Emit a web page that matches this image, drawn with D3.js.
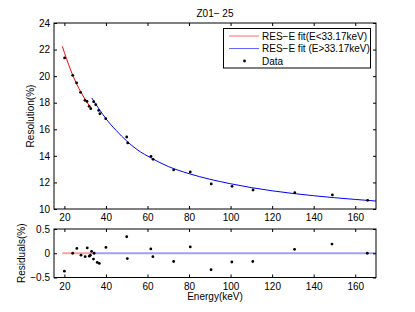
<!DOCTYPE html>
<html><head><meta charset="utf-8">
<script src="https://cdn.jsdelivr.net/npm/d3@7"></script>
<style>
body{margin:0;background:#fff;}
svg text{font-family:"Liberation Sans",Arial,sans-serif;fill:#000;}
</style></head>
<body><svg id="c" width="415" height="312"></svg>
<script>
// ---- data ----
const title = "Z01\u2212 25";
const xTicks = [20, 40, 60, 80, 100, 120, 140, 160];
const yTicksTop = [10, 12, 14, 16, 18, 20, 22, 24];
const yTicksRes = [-0.5, 0, 0.5];
const splitE = 33.17;

const dataE = [20.1, 24, 25.9, 27.8, 29.9, 30.9, 31.9, 32.7, 34.1, 35.1, 36.5, 37.1, 39.9, 50, 50.5, 61.7, 62.7, 72.6, 80.6, 90.7, 100.7, 110.8, 130.9, 149, 166];
const dataR = [21.37, 20.06, 19.49, 18.78, 18.18, 18.1, 17.73, 17.55, 18.08, 17.85, 17.42, 17.17, 16.8, 15.42, 14.97, 13.96, 13.74, 12.94, 12.79, 11.89, 11.71, 11.43, 11.23, 11.06, 10.65];

const redFitE = [19, 20, 22, 24, 26, 28, 30, 32, 33.17];
const redFitR = [22.24, 21.78, 20.88, 20.08, 19.38, 18.78, 18.25, 17.78, 17.53];
const blueFitE = [33.17, 35, 37, 40, 45, 50, 55, 62, 70, 80, 90, 100, 110, 120, 130, 140, 150, 160, 170];
const blueFitR = [18.36, 17.92, 17.46, 16.8, 15.9, 15.12, 14.47, 13.82, 13.2, 12.66, 12.24, 11.9, 11.61, 11.37, 11.17, 11.0, 10.85, 10.72, 10.6];

const resE = [20, 24, 26, 28, 30, 31, 32, 32.5, 33.1, 34, 34.3, 35.8, 36.8, 40, 50, 50.3, 61.6, 62.6, 72.6, 80.6, 90.6, 100.6, 110.7, 130.8, 148.8, 165.8];
const resV = [-0.37, 0, 0.1, -0.04, -0.07, 0.11, -0.06, -0.04, 0.04, -0.12, 0, -0.19, -0.21, 0.12, 0.34, -0.11, 0.09, -0.07, -0.17, 0.13, -0.34, -0.18, -0.17, 0.08, 0.19, 0];

const legendLabels = ["RES\u2212E fit(E<33.17keV)", "RES\u2212E fit (E>33.17keV)", "Data"];
const colors = {red: "#ff0000", blue: "#0000ff"};

// ---- drawing ----
const svg = d3.select("#c");
const L = 54, R = 376;
const x = d3.scaleLinear().domain([15, 170]).range([L, R]);
const yTop = d3.scaleLinear().domain([10, 24]).range([209, 23]);
const yRes = d3.scaleLinear().domain([-0.5, 0.5]).range([277.5, 229]);
const fmt = d => (d < 0 ? "\u2212" + Math.abs(d) : String(d));

function frame(y, yt, labelX) {
  const g = svg.append("g");
  const [y0, y1] = y.range();
  // bottom axis with labels
  const bx = g.append("g").attr("transform", `translate(0,${y0})`)
    .call(d3.axisBottom(x).tickValues(xTicks).tickSizeInner(-3).tickSizeOuter(0).tickPadding(5));
  const tx = g.append("g").attr("transform", `translate(0,${y1})`)
    .call(d3.axisTop(x).tickValues(xTicks).tickSizeInner(-3).tickSizeOuter(0).tickFormat(""));
  const ly = g.append("g").attr("transform", `translate(${L},0)`)
    .call(d3.axisLeft(y).tickValues(yt).tickSizeInner(-3).tickSizeOuter(0).tickPadding(4).tickFormat(fmt));
  const ry = g.append("g").attr("transform", `translate(${R},0)`)
    .call(d3.axisRight(y).tickValues(yt).tickSizeInner(-3).tickSizeOuter(0).tickFormat(""));
  [bx, tx, ly, ry].forEach(a => {
    a.select(".domain").remove();
    a.selectAll("line").attr("stroke", "#000");
    a.selectAll("text").style("font-size", "10px").attr("fill", "#000");
  });
  g.append("rect").attr("x", L).attr("y", y1).attr("width", R - L).attr("height", y0 - y1)
    .attr("fill", "none").attr("stroke", "#000").attr("stroke-width", 1);
}

// top plot curves
const line = d3.line().x(d => x(d[0])).y(d => yTop(d[1])).curve(d3.curveMonotoneX);
svg.append("path").datum(redFitE.map((e, i) => [e, redFitR[i]]))
  .attr("d", line).attr("fill", "none").attr("stroke", colors.red).attr("stroke-width", 1);
svg.append("path").datum(blueFitE.map((e, i) => [e, blueFitR[i]]))
  .attr("d", line).attr("fill", "none").attr("stroke", colors.blue).attr("stroke-width", 1);
svg.append("g").selectAll("circle").data(dataE).join("circle")
  .attr("cx", (d) => x(d)).attr("cy", (d, i) => yTop(dataR[i])).attr("r", 1.4).attr("fill", "#000");
frame(yTop, yTicksTop);

// residual plot
svg.append("line").attr("x1", x(redFitE[0])).attr("x2", x(splitE)).attr("y1", yRes(0)).attr("y2", yRes(0))
  .attr("stroke", "#f7a0a0").attr("stroke-width", 2);
svg.append("line").attr("x1", x(splitE)).attr("x2", R).attr("y1", yRes(0)).attr("y2", yRes(0))
  .attr("stroke", "#a0a0f7").attr("stroke-width", 2);
svg.append("g").selectAll("circle").data(resE).join("circle")
  .attr("cx", d => x(d)).attr("cy", (d, i) => yRes(resV[i])).attr("r", 1.4).attr("fill", "#000");
frame(yRes, yTicksRes);

// texts
svg.append("text").attr("x", (L + R) / 2).attr("y", 16.5).attr("text-anchor", "middle")
  .style("font-size", "10px").text(title);
svg.append("text").attr("transform", `translate(34,${(23 + 209) / 2}) rotate(-90)`)
  .attr("text-anchor", "middle").style("font-size", "10px").text("Resolution(%)");
svg.append("text").attr("transform", `translate(25,${(229 + 277.5) / 2}) rotate(-90)`)
  .attr("text-anchor", "middle").style("font-size", "10px").text("Residuals(%)");
svg.append("text").attr("x", (L + R) / 2).attr("y", 300).attr("text-anchor", "middle")
  .style("font-size", "10px").text("Energy(keV)");

// legend
const lg = svg.append("g");
lg.append("rect").attr("x", 223.5).attr("y", 28.5).attr("width", 147).attr("height", 39.5)
  .attr("fill", "#fff").attr("stroke", "#000");
const ly0 = [36, 48.5, 61];
lg.append("line").attr("x1", 229).attr("x2", 259).attr("y1", ly0[0]).attr("y2", ly0[0])
  .attr("stroke", colors.red).attr("stroke-width", 1).attr("stroke-opacity", 0.6);
lg.append("line").attr("x1", 229).attr("x2", 259).attr("y1", ly0[1]).attr("y2", ly0[1])
  .attr("stroke", colors.blue).attr("stroke-width", 1).attr("stroke-opacity", 0.6);
lg.append("circle").attr("cx", 244.5).attr("cy", ly0[2]).attr("r", 1.4).attr("fill", "#000");
legendLabels.forEach((t, i) => {
  lg.append("text").attr("x", 262).attr("y", ly0[i] + 3.5).style("font-size", "10px").text(t);
});
</script></body></html>
